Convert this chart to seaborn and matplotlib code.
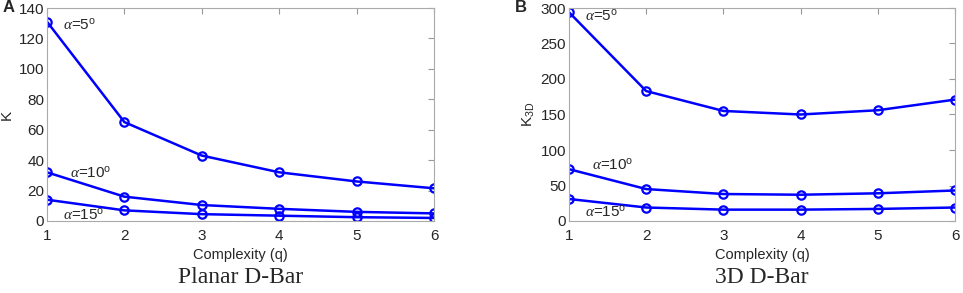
import matplotlib
matplotlib.use("Agg")
import matplotlib.pyplot as plt
import pandas as pd
import seaborn as sns

q = [1, 2, 3, 4, 5, 6]

# Planar D-Bar
planar_a5 = [131, 65, 43, 32, 26, 21.5]
planar_a10 = [32, 16, 10.5, 8, 6, 5]
planar_a15 = [14, 7, 4.5, 3.5, 2.5, 2]

# 3D D-Bar
d3_a5 = [294, 183, 155, 150, 156, 171]
d3_a10 = [73, 45, 38, 37, 39, 43]
d3_a15 = [31, 19, 16, 16, 17, 19]

alphas = ["5", "10", "15"]

sns.set_style("white")
plt.rcParams['font.family'] = ['Liberation Sans', 'DejaVu Sans']
plt.rcParams['mathtext.fontset'] = 'custom'
plt.rcParams['mathtext.it'] = 'Liberation Serif:italic'

fig = plt.figure(figsize=(9.63, 2.93), dpi=100)
axA = fig.add_axes([47 / 963, 72 / 293, 387 / 963, 213 / 293])
axB = fig.add_axes([569 / 963, 72 / 293, 386 / 963, 213 / 293])

def make_df(series):
    rows = []
    for a, vals in zip(alphas, series):
        for x, v in zip(q, vals):
            rows.append({"q": x, "K": v, "alpha": a})
    return pd.DataFrame(rows)

panels = [
    (axA, [planar_a5, planar_a10, planar_a15], 140, 20, "K", "Planar D-Bar", "A",
     [(1.21, 128), (1.30, 31), (1.21, 3.3)], -0.085, -0.116),
    (axB, [d3_a5, d3_a10, d3_a15], 300, 50, r"K$_{\mathregular{3D}}$", "3D D-Bar", "B",
     [(1.21, 287), (1.30, 77), (1.21, 11)], -0.083, -0.14),
]

for ax, series, ymax, ystep, ylab, title, letter, label_pos, ylab_x, letter_x in panels:
    df = make_df(series)
    sns.lineplot(data=df, x="q", y="K", units="alpha", estimator=None, color="#0000ff",
                 linewidth=1.8, marker="o", markersize=6, markerfacecolor="none",
                 markeredgecolor="#0000ff", markeredgewidth=1.6, ax=ax)
    ax.set_xlim(1, 6)
    ax.set_ylim(0, ymax)
    ax.set_xticks(q)
    ax.set_yticks(range(0, ymax + 1, ystep))
    ax.tick_params(direction="in", length=4, color="#999999", labelsize=11,
                   top=True, right=True)
    ax.tick_params(axis="x", pad=6)
    ax.tick_params(axis="y", pad=2)
    for s in ax.spines.values():
        s.set_color("#aaaaaa")
        s.set_linewidth(0.8)
    ax.set_xlabel("Complexity (q)", fontsize=10.5, labelpad=3)
    ax.set_ylabel(ylab, fontsize=11)
    ax.yaxis.set_label_coords(ylab_x, 0.5)
    for a, (x, y) in zip(alphas, label_pos):
        ax.text(x, y, r"$\alpha$=" + a + r"$^{\mathregular{o}}$", fontsize=11,
                va="center", ha="left")
    ax.text(0.5, -0.263, title, transform=ax.transAxes, ha="center", va="center",
            fontsize=17, family="Liberation Serif")
    ax.text(letter_x, 1.0, letter, transform=ax.transAxes,
            ha="left", va="center", fontsize=12, fontweight="bold")

fig.savefig("out.png", dpi=100)
